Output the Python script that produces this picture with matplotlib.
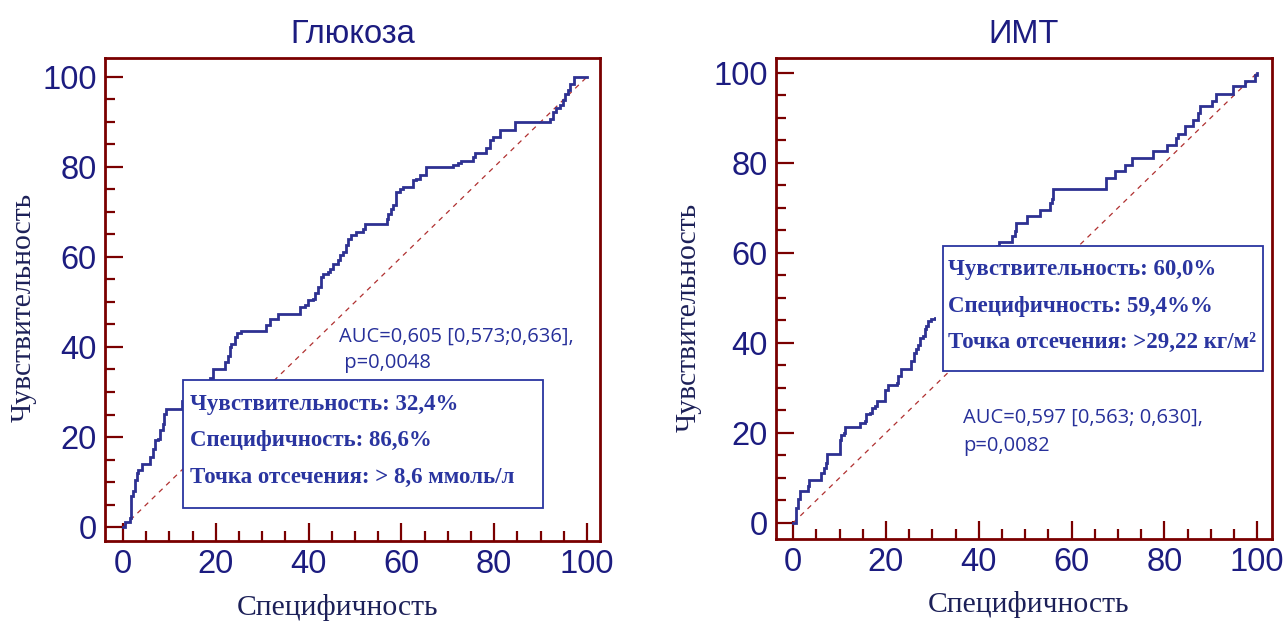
import matplotlib
matplotlib.use("Agg")
import matplotlib.pyplot as plt
from matplotlib.patches import Rectangle
from matplotlib.ticker import MultipleLocator

# ---------------- data ----------------
titles = ["Глюкоза", "ИМТ"]
x_label = "Специфичность"
y_label = "Чувствительность"
tick_values = [0, 20, 40, 60, 80, 100]

glu_x = [0, 0.36, 1.44, 1.6, 2.2, 2.5, 2.9, 3.2, 4.0, 5.7, 6.5, 6.8, 7.5, 7.9, 8.6, 8.8, 9.3,
         12.6, 13.5, 15.0, 16.5, 18.0, 18.7, 19.4, 21.9, 22.6, 23.0, 23.3, 24.1, 24.6, 25.5,
         30.9, 31.6, 33.4, 38.1, 39.2, 39.9, 40.9, 41.3, 42.0, 42.7, 43.1, 44.2, 44.5, 45.3,
         46.3, 46.7, 47.4, 48.1, 48.5, 49.2, 50.3, 51.7, 52.1, 56.8, 57.1, 57.8, 58.2, 58.8,
         59.6, 60.3, 62.5, 63.2, 63.9, 65.4, 71.1, 72.2, 72.9, 75.4, 75.8, 78.3, 79.0, 79.7,
         81.2, 84.4, 92.0, 92.7, 93.4, 94.1, 94.8, 95.2, 95.9, 96.3, 97.3, 99.9]
glu_y = [0, 1.1, 1.9, 7.0, 8.1, 10.4, 11.9, 12.6, 14.1, 15.6, 17.4, 19.3, 19.6, 21.5, 23.0, 25.2, 26.3,
         28.1, 29.5, 30.5, 31.5, 32.5, 33.0, 35.2, 36.7, 38.1, 40.0, 40.7, 42.2, 43.0, 43.6,
         44.8, 46.3, 47.4, 48.9, 49.3, 50.4, 50.7, 51.9, 53.3, 55.6, 56.3, 56.7, 57.4, 58.5,
         59.3, 60.4, 61.1, 62.6, 64.1, 64.8, 65.6, 66.3, 67.4, 68.5, 69.6, 70.7, 71.5, 74.4,
         75.2, 75.6, 77.0, 77.4, 78.1, 80.0, 80.4, 80.9, 81.3, 82.2, 83.0, 84.1, 85.9, 86.7,
         88.3, 90.0, 90.7, 92.2, 93.0, 93.7, 94.8, 96.3, 97.0, 98.5, 100, 100]

bmi_x = [0, 0.7, 1.1, 1.4, 3.2, 3.4, 6.1, 6.6, 7.0, 7.3, 10.1, 10.4, 10.9, 11.1, 14.4, 15.4,
         15.8, 16.5, 16.9, 17.6, 18.0, 19.8, 20.5, 22.3, 22.6, 23.3, 25.5, 26.0, 26.4, 26.9,
         27.3, 28.0, 28.4, 28.7, 29.1, 29.6, 30.5, 32.0, 34.0, 36.0, 38.0, 40.0, 42.0, 44.0,
         44.4, 47.1, 47.9, 48.1, 50.4, 53.3, 55.3, 55.7, 56.0, 67.5, 69.3, 71.5, 73.1, 77.6,
         80.5, 82.6, 83.0, 84.4, 86.2, 87.3, 87.6, 90.2, 91.1, 94.8, 97.3, 99.5, 100]
bmi_y = [0, 3.3, 5.2, 7.0, 8.1, 9.6, 11.1, 12.2, 13.3, 15.2, 18.5, 19.6, 20.0, 21.3, 22.2, 22.6,
         24.1, 24.4, 25.6, 25.9, 27.0, 29.6, 30.7, 31.1, 32.6, 34.1, 35.9, 37.8, 38.7, 39.6,
         41.1, 41.6, 43.0, 43.7, 44.8, 45.3, 45.6, 47.0, 49.5, 52.0, 54.5, 57.0, 59.5, 61.5,
         62.4, 63.7, 64.8, 66.7, 68.1, 69.6, 71.0, 71.9, 74.1, 76.7, 78.1, 79.6, 81.1, 82.6,
         83.9, 85.6, 86.3, 88.1, 89.6, 91.1, 92.6, 93.7, 95.4, 97.0, 98.1, 99.6, 100]

glu_box_lines = ["Чувствительность: 32,4%", "Специфичность: 86,6%", "Точка отсечения: > 8,6 ммоль/л"]
bmi_box_lines = ["Чувствительность: 60,0%", "Специфичность: 59,4%%", "Точка отсечения: >29,22 кг/м²"]
glu_auc = ["AUC=0,605 [0,573;0,636],", " p=0,0048"]
bmi_auc = ["AUC=0,597 [0,563; 0,630],", "p=0,0082"]

# ---------------- style ----------------
FRAME = "#7a0000"
CURVE = "#2e3192"
NAVY = "#1c1c80"
LABEL = "#1c2058"
BOXBLUE = "#2a35a0"
TEXTBLUE = "#27309a"

W, H = 1288, 626
fig = plt.figure(figsize=(W / 100, H / 100), dpi=100)


def make_axes(px_left, px_right, px_top, px_bottom, xlim, ylim):
    ax = fig.add_axes([px_left / W, 1 - px_bottom / H, (px_right - px_left) / W, (px_bottom - px_top) / H])
    ax.set_xlim(*xlim)
    ax.set_ylim(*ylim)
    for s in ax.spines.values():
        s.set_color(FRAME)
        s.set_linewidth(2.0)
    ax.set_xticks(tick_values)
    ax.set_yticks(tick_values)
    ax.xaxis.set_minor_locator(MultipleLocator(5))
    ax.yaxis.set_minor_locator(MultipleLocator(5))
    ax.tick_params(which="major", direction="in", length=13, width=1.6, color=FRAME,
                   labelsize=23.5, labelcolor=NAVY, pad=6)
    ax.tick_params(which="minor", direction="in", length=7, width=1.6, color=FRAME)
    ax.tick_params(top=False, right=False, which="both")
    for lab in ax.get_xticklabels() + ax.get_yticklabels():
        lab.set_fontfamily("Liberation Sans")
    return ax


def draw(ax, xs, ys, title, box_rect, box_lines, line_x, line_ys, auc_lines, auc_x, auc_ys,
         mask=None, xlab_x=0.5, ylab_pos=(-0.16, 0.5)):
    ax.plot([0, 100], [0, 100], color="#b03030", lw=0.9, linestyle=(0, (4, 4)), zorder=2)
    ax.plot(xs, ys, color=CURVE, lw=2.0, drawstyle="steps-post", zorder=3, solid_joinstyle="miter")
    if mask is not None:
        ax.add_patch(Rectangle((mask[0], mask[1]), mask[2], mask[3], facecolor="white",
                               edgecolor="none", zorder=4))
    bx, by, bw, bh = box_rect
    ax.add_patch(Rectangle((bx, by), bw, bh, facecolor="white", edgecolor=BOXBLUE, lw=1.3, zorder=5,
                           clip_on=False))
    for t, yy in zip(box_lines, line_ys):
        ax.text(line_x, yy, t, fontsize=16.5, fontweight="bold", family="Liberation Serif",
                color=BOXBLUE, va="center", ha="left", zorder=6)
    for t, yy in zip(auc_lines, auc_ys):
        ax.text(auc_x, yy, t, fontsize=14.5, family="Open Sans", color=TEXTBLUE,
                va="center", ha="left", zorder=6)
    ax.set_title(title, fontsize=23.5, family="Liberation Sans", color=NAVY, pad=11)
    ax.text(xlab_x, -0.137, x_label, transform=ax.transAxes, ha="center", va="center",
            fontsize=21.3, family="Liberation Serif", color=LABEL)
    ax.text(ylab_pos[0], ylab_pos[1], y_label, transform=ax.transAxes, ha="center", va="center",
            rotation=90, fontsize=21.3, family="Liberation Serif", color=LABEL)


ax1 = make_axes(105, 600, 58, 541, (-3.9, 102.8), (-3.1, 104.2))
draw(ax1, glu_x, glu_y, titles[0], (12.9, 4.2, 77.6, 28.5), glu_box_lines, 14.4,
     [27.3, 19.3, 11.1], glu_auc, 46.6, [42.2, 36.4], xlab_x=0.469, ylab_pos=(-0.165, 0.484))

ax2 = make_axes(776, 1272, 58, 539, (-3.7, 103.2), (-3.6, 103.3))
draw(ax2, bmi_x, bmi_y, titles[1], (32.3, 33.8, 69.0, 27.8), bmi_box_lines, 33.4,
     [56.2, 48.0, 40.0], bmi_auc, 36.6, [23.3, 17.1], mask=(30.8, 33.8, 3.0, 27.8),
     xlab_x=0.51, ylab_pos=(-0.177, 0.46))

fig.savefig("out.png", dpi=100)
